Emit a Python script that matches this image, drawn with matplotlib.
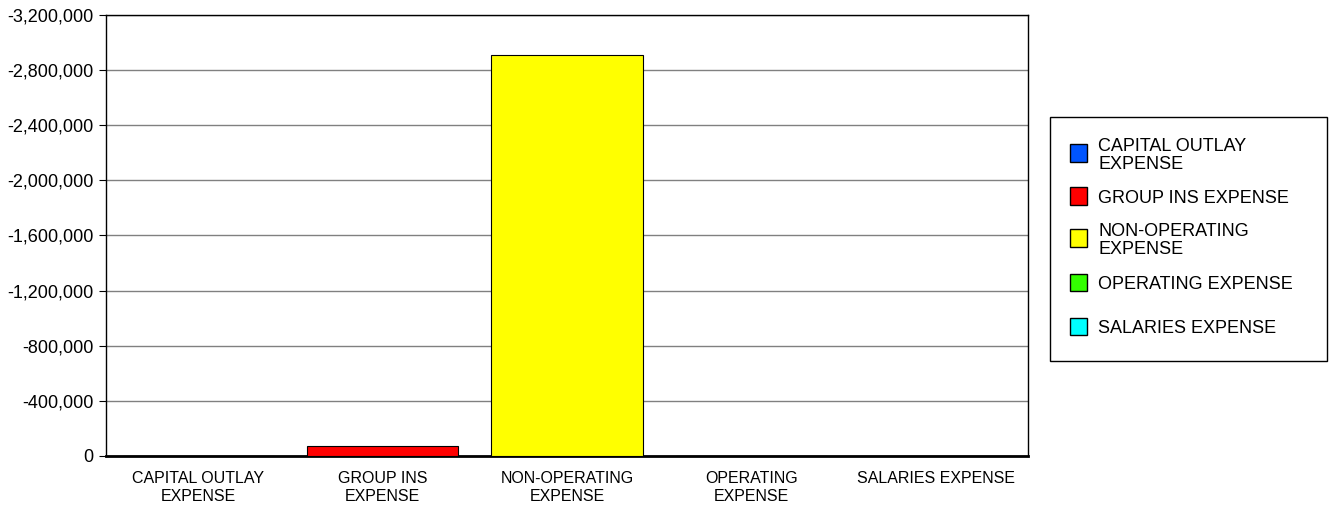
import matplotlib.pyplot as plt
from matplotlib.patches import Rectangle
from matplotlib.ticker import FuncFormatter

plt.rcParams['font.family'] = ['Liberation Sans', 'DejaVu Sans']

# Expense totals by category
categories = ['CAPITAL OUTLAY\nEXPENSE', 'GROUP INS\nEXPENSE', 'NON-OPERATING\nEXPENSE',
              'OPERATING\nEXPENSE', 'SALARIES EXPENSE']
legend_labels = ['CAPITAL OUTLAY\nEXPENSE', 'GROUP INS EXPENSE', 'NON-OPERATING\nEXPENSE',
                 'OPERATING EXPENSE', 'SALARIES EXPENSE']
values = [0, -72000, -2910000, 0, 0]
colors = ['#0055ff', '#ff0000', '#ffff00', '#33ff00', '#00ffff']

W, H = 1330, 508
fig = plt.figure(figsize=(W / 100, H / 100), dpi=100)
ax = fig.add_axes([106 / W, 52 / H, 922 / W, 441 / H])

x = range(len(categories))
ax.bar(x, values, width=0.82, color=colors, edgecolor='black', linewidth=0.8, zorder=3)

ax.set_xlim(-0.5, len(categories) - 0.5)
ax.set_ylim(0, -3200000)
ax.set_yticks(range(0, -3200001, -400000))
ax.yaxis.set_major_formatter(FuncFormatter(lambda v, p: f'{int(v):,}'))
ax.set_xticks(list(x))
ax.set_xticklabels(categories, fontsize=11.5, linespacing=1.2)
ax.tick_params(axis='y', labelsize=13, length=5, pad=4)
ax.tick_params(axis='x', length=0, pad=11)
ax.grid(axis='y', color='#808080', linewidth=1, zorder=0)
for s in ax.spines.values():
    s.set_linewidth(1)
ax.spines['bottom'].set_linewidth(2)

# legend drawn in pixel slots: frame 1050..1327 x 117..361
def px(xp, yp):
    return xp / W, 1 - yp / H

fx, fy = px(1050, 361)
fig.patches.append(Rectangle((fx, fy), 277 / W, 244 / H, transform=fig.transFigure,
                             facecolor='white', edgecolor='black', linewidth=1))
slot_y = [153, 196, 238, 282, 326]
for yc, c, lab in zip(slot_y, colors, legend_labels):
    hx, hy = px(1070, yc + 8.5)
    fig.patches.append(Rectangle((hx, hy), 17 / W, 17 / H, transform=fig.transFigure,
                                 facecolor=c, edgecolor='black', linewidth=1))
    tx, ty = px(1098, yc + 2.5)
    fig.text(tx, ty, lab, fontsize=13, va='center', ha='left', linespacing=1.1)

fig.savefig('out.png', dpi=100)
